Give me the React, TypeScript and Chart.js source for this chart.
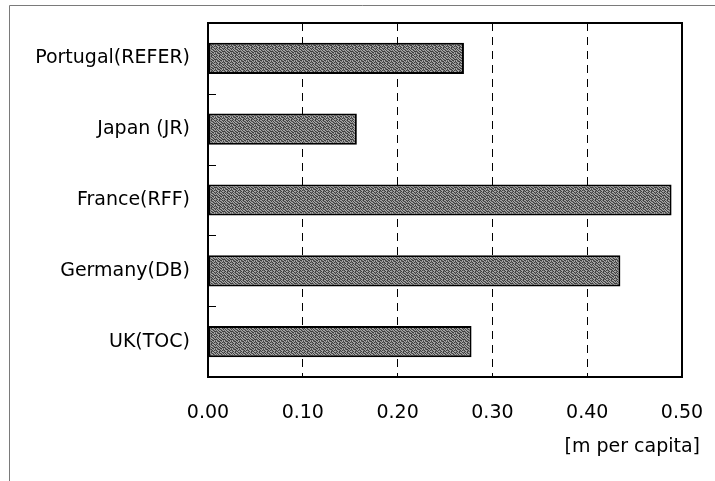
import React, { useEffect, useRef } from "react";
import { Chart, registerables } from "chart.js";

Chart.register(...registerables);

const categories = ["Portugal(REFER)", "Japan (JR)", "France(RFF)", "Germany(DB)", "UK(TOC)"];
const values = [0.27, 0.157, 0.489, 0.435, 0.278];
const xTicks = [0, 0.1, 0.2, 0.3, 0.4, 0.5];
const xAxisTitle = "[m per capita]";

const FONT = "'DejaVu Sans', sans-serif";

const textureRows = [
  "dlmdlldm",
  "ldlmdmld",
  "mldlldml",
  "dmldmldd",
  "ldmlddlm",
  "lmddlmld",
  "dllmdldm",
  "mdldmdll",
];
const textureShades: Record<string, string> = { d: "#3e3e3e", m: "#727272", l: "#a8a8a8" };

function makePattern(): CanvasPattern | string {
  const c = document.createElement("canvas");
  c.width = 8;
  c.height = 8;
  const g = c.getContext("2d");
  if (!g) return "#737373";
  textureRows.forEach((row, y) => {
    for (let x = 0; x < row.length; x++) {
      g.fillStyle = textureShades[row[x]];
      g.fillRect(x, y, 1, 1);
    }
  });
  const p = g.createPattern(c, "repeat");
  return p || "#737373";
}

const decorPlugin = {
  id: "decor",
  beforeDraw(chart: any) {
    const ctx = chart.ctx;
    ctx.save();
    ctx.fillStyle = "#ffffff";
    ctx.fillRect(0, 0, chart.width, chart.height);
    ctx.strokeStyle = "#7a7a7a";
    ctx.lineWidth = 1;
    ctx.beginPath();
    ctx.moveTo(9.5, chart.height);
    ctx.lineTo(9.5, 5.5);
    ctx.lineTo(chart.width, 5.5);
    ctx.stroke();
    ctx.restore();
  },
  afterDatasetsDraw(chart: any) {
    const ctx = chart.ctx;
    const a = chart.chartArea;
    ctx.save();
    ctx.strokeStyle = "#000000";
    ctx.lineWidth = 2;
    ctx.strokeRect(a.left, a.top, a.right - a.left, a.bottom - a.top);
    ctx.lineWidth = 1;
    const n = categories.length;
    const h = (a.bottom - a.top) / n;
    ctx.beginPath();
    for (let i = 1; i < n; i++) {
      const y = Math.round(a.top + h * i) + 0.5;
      ctx.moveTo(a.left, y);
      ctx.lineTo(a.left + 8, y);
    }
    ctx.stroke();
    ctx.fillStyle = "#000000";
    ctx.font = "19px " + FONT;
    ctx.textAlign = "right";
    ctx.textBaseline = "middle";
    ctx.fillText(xAxisTitle, 700, 447);
    ctx.restore();
  },
};

export default function App() {
  const ref = useRef<HTMLCanvasElement | null>(null);
  useEffect(() => {
    if (!ref.current) return;
    const chart = new Chart(ref.current, {
      type: "bar",
      data: {
        labels: categories,
        datasets: [
          {
            data: values,
            backgroundColor: makePattern() as any,
            borderColor: "#000000",
            borderWidth: 2,
            borderSkipped: false,
            categoryPercentage: 1,
            barPercentage: 0.44,
          },
        ],
      },
      options: {
        indexAxis: "y",
        responsive: false,
        animation: false,
        layout: { padding: { left: 0, top: 23, right: 33, bottom: 0 } },
        plugins: {
          legend: { display: false },
          tooltip: { enabled: false },
          title: { display: false },
        },
        scales: {
          x: {
            type: "linear",
            min: 0,
            max: 0.5,
            afterBuildTicks(scale: any) {
              scale.ticks = xTicks.map((v) => ({ value: v }));
            },
            afterFit(scale: any) {
              scale.height = 104;
              scale.paddingLeft = 0;
              scale.paddingRight = 0;
            },
            ticks: {
              color: "#000000",
              font: { family: FONT, size: 19 },
              padding: 25,
              maxRotation: 0,
              callback: (v: any) => Number(v).toFixed(2),
            },
            grid: {
              drawTicks: false,
              lineWidth: 1,
              color: (ctx: any) =>
                ctx.tick && (ctx.tick.value === 0 || ctx.tick.value === 0.5) ? "rgba(0,0,0,0)" : "#000000",
            },
            border: { display: false, dash: [8, 6] },
          },
          y: {
            afterFit(scale: any) {
              scale.width = 208;
              scale.paddingTop = 0;
              scale.paddingBottom = 0;
            },
            ticks: {
              color: "#000000",
              font: { family: FONT, size: 19 },
              padding: 18,
            },
            grid: { display: false, drawTicks: false },
            border: { display: false },
          },
        },
      },
      plugins: [decorPlugin],
    } as any);
    return () => chart.destroy();
  }, []);
  return (
    <div style={{ position: "fixed", left: 0, top: 0, width: 715, height: 481 }}>
      <canvas ref={ref} width={715} height={481} style={{ width: 715, height: 481 }} />
    </div>
  );
}
